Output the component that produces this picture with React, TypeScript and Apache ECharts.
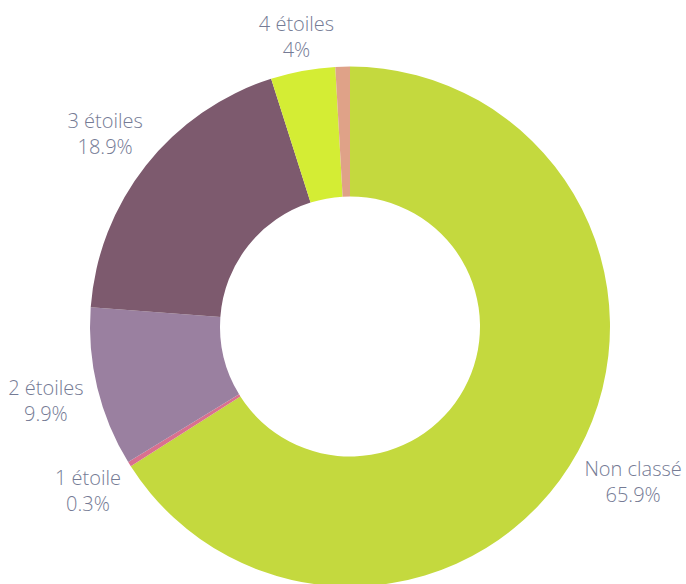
import React, { useEffect, useRef } from "react";
import * as echarts from "echarts";

const categories = ["Non classé", "1 étoile", "2 étoiles", "3 étoiles", "4 étoiles", "5 étoiles"];
const values = [65.9, 0.3, 9.9, 18.9, 4, 0.9];
const showLabel = [true, true, true, true, true, false];
const colors = ["#c4d93e", "#d9708f", "#9a80a0", "#7d5a6e", "#d4ed34", "#dfa288"];

const CX = 350;
const CY = 326.5;
const R_OUT = 260;
const R_IN = 130;

export default function App() {
  const ref = useRef<HTMLDivElement>(null);
  useEffect(() => {
    document.body.style.margin = "0";
    const chart = echarts.init(ref.current!, undefined, { renderer: "svg" });
    const total = values.reduce((a, b) => a + b, 0);
    const mids: number[] = [];
    let acc = 0;
    values.forEach((v) => {
      mids.push(((acc + v / 2) / total) * Math.PI * 2);
      acc += v;
    });
    chart.setOption({
      animation: false,
      series: [
        {
          type: "pie",
          center: [CX, CY],
          radius: [R_IN, R_OUT],
          startAngle: 90,
          clockwise: true,
          avoidLabelOverlap: false,
          silent: true,
          itemStyle: { borderWidth: 0 },
          label: {
            show: true,
            position: "outside",
            formatter: (p: any) => `${p.name}\n${p.value}%`,
            color: "#757b95",
            fontFamily: "Open Sans",
            fontSize: 20,
            fontWeight: 300,
            lineHeight: 26,
            align: "center",
          },
          labelLine: { show: false },
          labelLayout: (params: any) => {
            const i = params.dataIndex;
            const a = mids[i];
            const dx = Math.sin(a);
            const dy = -Math.cos(a);
            const hw = params.labelRect.width / 2;
            const d = R_OUT + 12.5 + hw * Math.abs(dx) + 16 * Math.abs(dy);
            return {
              x: CX + dx * d,
              y: CY + dy * d,
              align: "center",
              verticalAlign: "middle",
            };
          },
          data: categories.map((name, i) => ({
            name,
            value: values[i],
            itemStyle: { color: colors[i] },
            label: { show: showLabel[i] },
          })),
        },
      ],
    });
    return () => chart.dispose();
  }, []);
  return <div ref={ref} style={{ width: 686, height: 584 }} />;
}
